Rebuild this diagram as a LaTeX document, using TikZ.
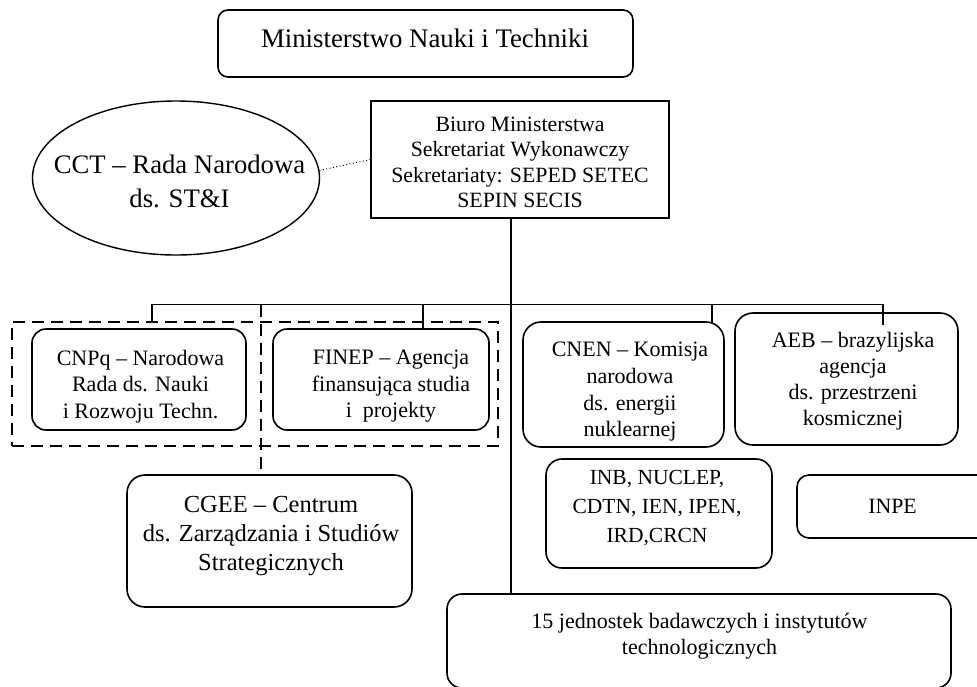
\documentclass[tikz,border=0pt]{standalone}
\usepackage{fontspec}
\setmainfont{Liberation Serif}
\usetikzlibrary{shapes.geometric}
\tikzset{
  box/.style={draw, line width=1.6pt, rounded corners=14pt, inner sep=0pt},
  sharpbox/.style={draw, line width=1.6pt, inner sep=0pt},
  grpbox/.style={draw, line width=1.5pt, dash pattern=on 12pt off 7pt, inner sep=0pt},
  txt/.style={align=center, inner sep=0pt},
  fbig/.style={font=\fontsize{26.8}{34}\selectfont},
  fmid/.style={font=\fontsize{22}{26.5}\selectfont},
  conn/.style={line width=1.6pt},
  dashconn/.style={line width=1.5pt, dash pattern=on 12pt off 7pt},
  dotconn/.style={line width=0.9pt, dash pattern=on 1pt off 2.4pt}
}
\begin{document}
\begin{tikzpicture}[x=1pt,y=-1pt]
\clip (0,0) rectangle (977,686);
\fill[white] (0,0) rectangle (977,686);

% top box
\node[box, rounded corners=10pt, minimum width=415pt, minimum height=67pt] (top) at (425.5,43.5) {};
\node[txt, fbig, anchor=base] (topt) at (425,47) {Ministerstwo Nauki i Techniki};

% CCT ellipse
\node[ellipse, draw, line width=1.4pt, minimum width=287pt, minimum height=154pt, inner sep=0pt] (cct) at (176,178) {};
\node[txt, font=\fontsize{26.7}{34}\selectfont] (cctt) at (179.5,181) {CCT – Rada Narodowa\\ds. ST\&I};

% Biuro box
\node[sharpbox, minimum width=298pt, minimum height=117pt] (biuro) at (520,159.5) {};
\node[txt, font=\fontsize{21.8}{25.3}\selectfont] (biurot) at (520,162.5) {Biuro Ministerstwa\\Sekretariat Wykonawczy\\Sekretariaty: SEPED SETEC\\SEPIN SECIS};

% dashed group
\node[grpbox, minimum width=486pt, minimum height=124pt] (grp) at (255,384) {};

% CNPq
\node[box, minimum width=214pt, minimum height=101pt] (cnpq) at (139,379.5) {};
\node[txt, fmid] (cnpqt) at (140.5,386.5) {CNPq – Narodowa\\Rada ds. Nauki\\i Rozwoju Techn.};

% FINEP
\node[box, minimum width=216pt, minimum height=101pt] (finep) at (381,379.5) {};
\node[txt, fmid] (finept) at (391,386.5) {FINEP – Agencja\\finansująca studia\\i\ \ projekty};

% CNEN
\node[box, rounded corners=18pt, minimum width=201pt, minimum height=125pt] (cnen) at (623.5,384.5) {};
\node[txt, font=\fontsize{22}{26.7}\selectfont] (cnent) at (630,392) {CNEN – Komisja\\narodowa\\ds. energii\\nuklearnej};

% AEB
\node[box, rounded corners=18pt, minimum width=223pt, minimum height=132pt] (aeb) at (846.5,379) {};
\node[txt, font=\fontsize{22}{26}\selectfont] (aebt) at (853,381) {AEB – brazylijska\\agencja\\ds. przestrzeni\\kosmicznej};

% INB
\node[box, rounded corners=16pt, minimum width=226pt, minimum height=109pt] (inb) at (659,513.5) {};
\node[txt, font=\fontsize{21.5}{29}\selectfont] (inbt) at (657,508.4) {INB, NUCLEP,\\CDTN, IEN, IPEN,\\IRD,CRCN};

% INPE
\node[box, rounded corners=12pt, minimum width=203pt, minimum height=63pt] (inpe) at (898.5,506.5) {};
\node[txt, font=\fontsize{21.8}{26}\selectfont, anchor=base] (inpet) at (892.5,513) {INPE};

% CGEE
\node[box, rounded corners=18pt, minimum width=285pt, minimum height=132pt] (cgee) at (269.5,541) {};
\node[txt, font=\fontsize{24.5}{29}\selectfont] (cgeet) at (271,536) {CGEE – Centrum\\ds. Zarządzania i Studiów\\Strategicznych};

% bottom box
\node[box, rounded corners=15pt, minimum width=504pt, minimum height=94pt] (inst) at (699,641) {};
\node[txt, font=\fontsize{22}{26}\selectfont] (instt) at (699.5,636) {15 jednostek badawczych i instytutów\\technologicznych};

% connector coordinates
\coordinate (trunk) at (511,304.5);
\coordinate (busL) at (152,304.5);
\coordinate (busR) at (883,304.5);
\coordinate (xfin) at (423,304.5);
\coordinate (xcgee) at (261,304.5);
\coordinate (xcnen) at (712,304.5);
\coordinate (cnenend) at (712,323);
\coordinate (aebend) at (883,325);

% connectors
\draw[dotconn] (cct.3) -- (biuro.west);
\draw[line width=1.4pt] (biuro.south -| trunk) -- (inst.north -| trunk);
\draw[conn] (grp.north -| busL) -- (busL) -- (busR) -- (aebend);
\draw[conn] (xfin) -- (finep.north -| xfin);
\draw[conn] (xcnen) -- (cnenend);
\draw[dashconn] (xcgee) -- (cgee.north -| xcgee);
\end{tikzpicture}
\end{document}
